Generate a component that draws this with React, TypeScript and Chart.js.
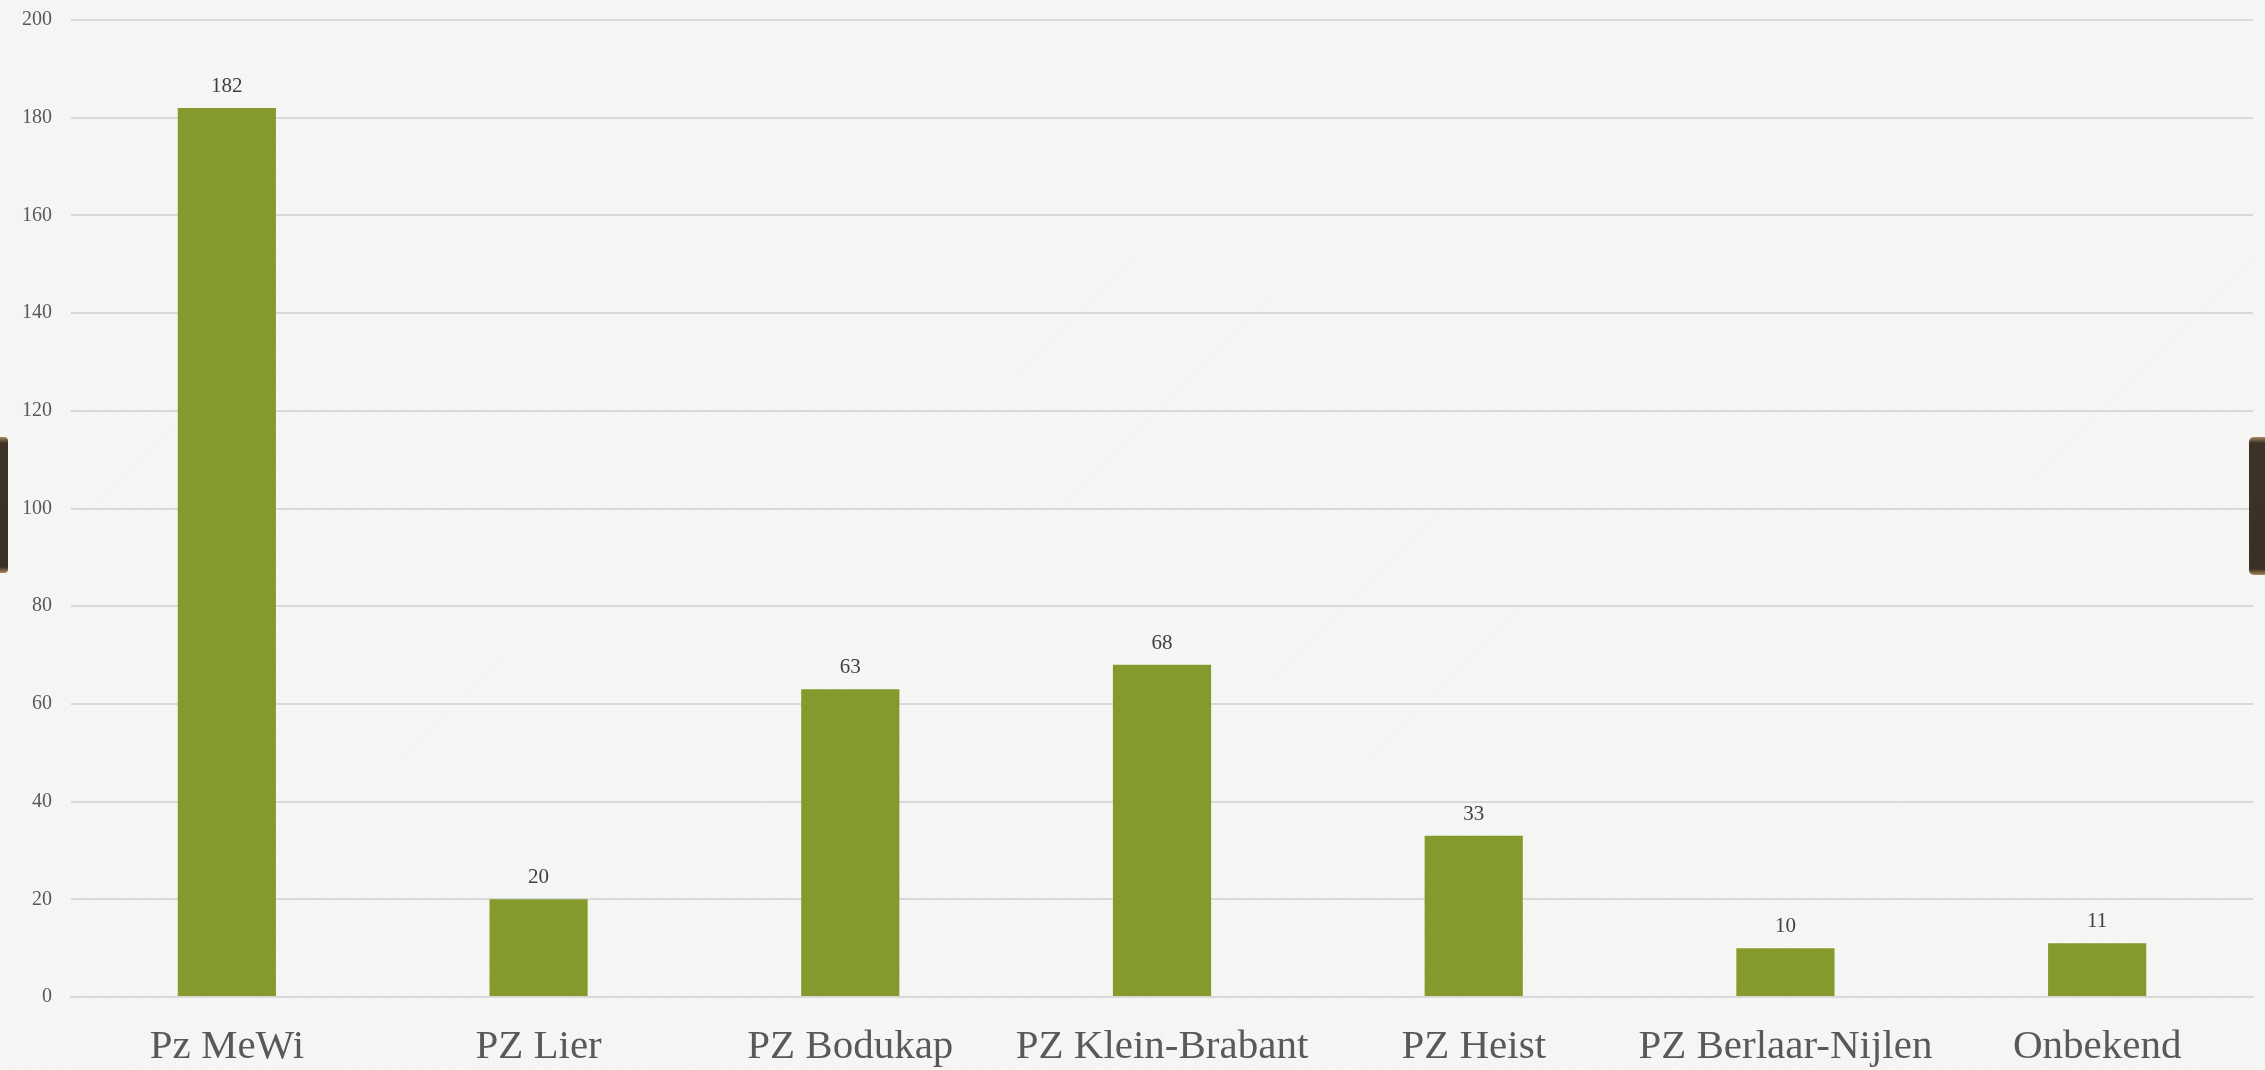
import React, { useEffect, useRef } from "react";
import { Chart, registerables } from "chart.js";

Chart.register(...registerables);

const categories = [
  "Pz MeWi",
  "PZ Lier",
  "PZ Bodukap",
  "PZ Klein-Brabant",
  "PZ Heist",
  "PZ Berlaar-Nijlen",
  "Onbekend",
];
const values = [182, 20, 63, 68, 33, 10, 11];
const yMin = 0;
const yMax = 200;
const yStep = 20;

const FONT = "'Liberation Serif', 'Times New Roman', serif";

const valueLabels = {
  id: "valueLabels",
  afterDatasetsDraw(chart: any) {
    const ctx = chart.ctx;
    const meta = chart.getDatasetMeta(0);
    ctx.save();
    ctx.font = `21px ${FONT}`;
    ctx.fillStyle = "#404040";
    ctx.textAlign = "center";
    ctx.textBaseline = "alphabetic";
    meta.data.forEach((bar: any, i: number) => {
      ctx.fillText(String(values[i]), bar.x, bar.y - 16);
    });
    ctx.restore();
  },
};

export default function App() {
  const ref = useRef<HTMLCanvasElement>(null);

  useEffect(() => {
    if (!ref.current) return;
    const chart = new Chart(ref.current, {
      type: "bar",
      data: {
        labels: categories,
        datasets: [
          {
            data: values,
            backgroundColor: "#859a2c",
            borderWidth: 0,
            barPercentage: 0.315,
            categoryPercentage: 1,
          },
        ],
      },
      options: {
        responsive: false,
        animation: false,
        layout: { padding: { top: 20, right: 12, left: 0, bottom: 0 } },
        plugins: {
          legend: { display: false },
          tooltip: { enabled: false },
        },
        scales: {
          x: {
            grid: { display: false, drawTicks: false },
            border: { display: true, color: "#d9d9d9", width: 2 },
            ticks: {
              font: { family: FONT, size: 41 },
              color: "#595959",
              padding: 26,
              maxRotation: 0,
              autoSkip: false,
            },
            afterFit: (scale: any) => {
              scale.height = 73;
            },
          },
          y: {
            min: yMin,
            max: yMax,
            grid: { color: "#d9d9d9", lineWidth: 2, drawTicks: false },
            border: { display: false },
            ticks: {
              stepSize: yStep,
              font: { family: FONT, size: 20 },
              color: "#595959",
              padding: 19,
            },
            afterFit: (scale: any) => {
              scale.width = 71;
              scale.paddingTop = 0;
              scale.paddingBottom = 0;
            },
          },
        },
      },
      plugins: [valueLabels],
    });
    return () => chart.destroy();
  }, []);

  return (
    <div
      style={{
        position: "fixed",
        left: 0,
        top: 0,
        width: 2265,
        height: 1070,
        overflow: "hidden",
        background:
          "repeating-linear-gradient(135deg, rgba(0,0,0,0.012) 0px, rgba(0,0,0,0.012) 1px, rgba(255,255,255,0) 1px, rgba(255,255,255,0) 4px), #f6f6f4",
      }}
    >
      <canvas ref={ref} width={2265} height={1070} style={{ display: "block" }} />
      <div
        style={{
          position: "absolute",
          left: 0,
          top: 437,
          width: 8,
          height: 136,
          borderRadius: "0 4px 4px 0",
          background:
            "linear-gradient(to bottom, #a8895a 0px, #3d3228 6px, #3b3026 130px, #a8895a 136px)",
        }}
      />
      <div
        style={{
          position: "absolute",
          left: 2249,
          top: 437,
          width: 16,
          height: 138,
          borderRadius: "5px 0 0 5px",
          background:
            "linear-gradient(to bottom, #a8895a 0px, #3d3228 6px, #3b3026 132px, #a8895a 138px)",
        }}
      />
    </div>
  );
}
